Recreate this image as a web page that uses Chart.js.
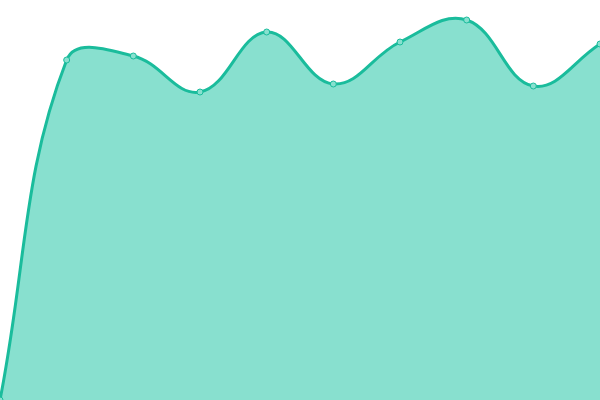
<!DOCTYPE html>
<html><head><meta charset="utf-8">
<script src="https://cdn.jsdelivr.net/npm/chart.js@4"></script>
<style>html,body{margin:0;padding:0;background:#fff}#wrap{width:600px;height:400px}</style>
</head><body><div id="wrap"><canvas id="c"></canvas></div>
<script>
const categories = ['1','2','3','4','5','6','7','8','9','10'];
const values = [0, 85, 86, 77, 92, 79, 89.5, 95, 78.5, 89];
new Chart(document.getElementById('c'), {
  type: 'line',
  data: { labels: categories, datasets: [{
    data: values, fill: true, tension: 0.4,
    borderColor: '#1abc9c', backgroundColor: '#88e0cf',
    borderWidth: 3, pointRadius: 3, pointBackgroundColor: '#88e0cf',
    pointBorderColor: '#1abc9c', pointBorderWidth: 1
  }]},
  options: {
    responsive: true, maintainAspectRatio: false, animation: false,
    layout: { padding: 0, autoPadding: false },
    plugins: { legend: { display: false }, tooltip: { enabled: false } },
    scales: { x: { display: false }, y: { display: false, min: 0, max: 100 } }
  }
});
</script></body></html>
